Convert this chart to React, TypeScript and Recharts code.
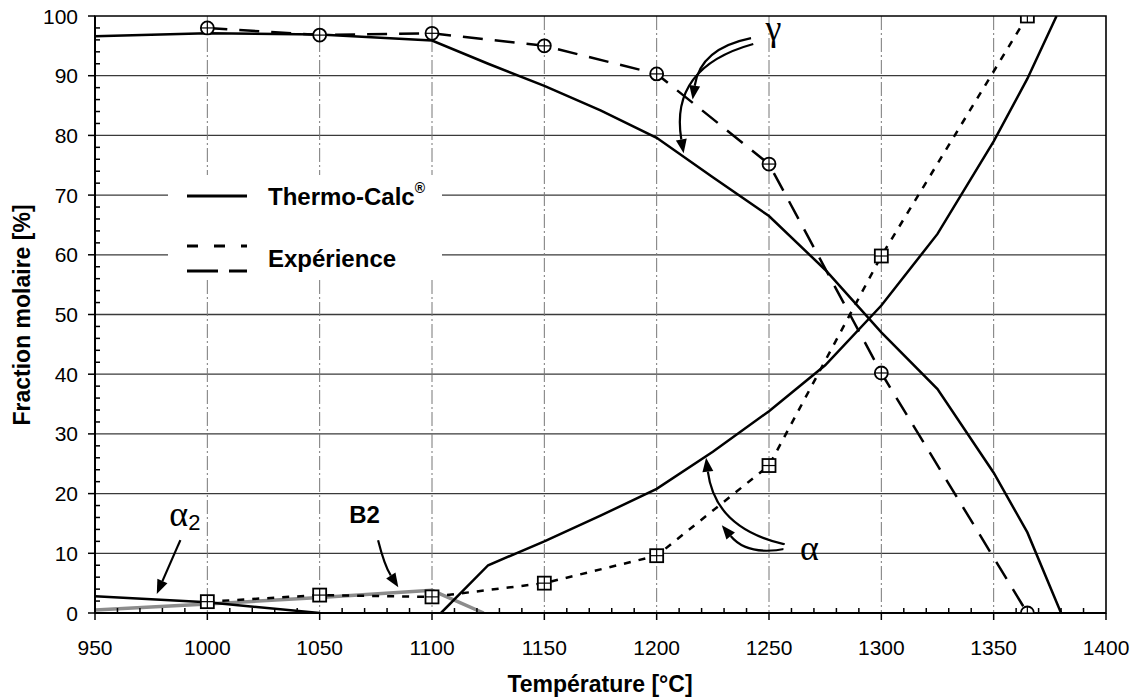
import React from "react";
import {
  CartesianGrid,
  Line,
  LineChart,
  ReferenceArea,
  ReferenceDot,
  ReferenceLine,
  XAxis,
  YAxis,
} from "recharts";

// Thermo-Calc: gamma
const gammaCalcT = [950, 1000, 1050, 1100, 1125, 1150, 1175, 1200, 1225, 1250, 1275, 1300, 1325, 1350, 1365, 1380];
const gammaCalcV = [96.6, 97.1, 96.9, 95.9, 92.0, 88.3, 84.2, 79.6, 73.0, 66.5, 57.5, 47.0, 37.5, 23.5, 13.5, 0];

// Thermo-Calc: alpha
const alphaCalcT = [1104, 1125, 1150, 1175, 1200, 1225, 1250, 1275, 1300, 1325, 1350, 1365, 1378];
const alphaCalcV = [0, 8, 12, 16.3, 20.8, 27.0, 33.8, 41.5, 51.5, 63.5, 79, 89.5, 100];

// Thermo-Calc: alpha2 and B2
const alpha2CalcT = [950, 1000, 1050];
const alpha2CalcV = [2.8, 1.8, 0];
const b2CalcT = [950, 1000, 1050, 1100, 1123];
const b2CalcV = [0.5, 1.5, 2.6, 3.8, 0];

// Experience
const expT = [1000, 1050, 1100, 1150, 1200, 1250, 1300, 1365];
const gammaExpV = [98, 96.8, 97.1, 95, 90.3, 75.2, 40.2, 0];
const alphaExpV = [1.9, 3.0, 2.7, 5, 9.6, 24.7, 59.8, 100];

const xTicks = Array.from({ length: 46 }, (_, i) => 950 + i * 10);
const yTicks = Array.from({ length: 51 }, (_, i) => i * 2);
const xGrid = [1000, 1050, 1100, 1150, 1200, 1250, 1300, 1350];
const yGrid = [10, 20, 30, 40, 50, 60, 70, 80, 90];

// annotation arrows: start, tip, bend
const arrows = [
  { from: [1242, 96.3], to: [1216, 86], bend: 0.35 },
  { from: [1243, 95.3], to: [1212, 77], bend: 0.45 },
  { from: [1258, 10.8], to: [1229, 14.7], bend: -0.3 },
  { from: [1257, 11.5], to: [1222, 26], bend: -0.35 },
  { from: [988, 12.2], to: [977.5, 3.2], bend: 0 },
  { from: [1076, 12.2], to: [1085, 4.3], bend: 0.08 },
];

const zip = (ts: number[], vs: number[]) => ts.map((t, i) => ({ t, v: vs[i] }));

const TICK_SIZE = 6;
const TICK_MARGIN = 6;
const SANS = "'Liberation Sans', Arial, sans-serif";
const SERIF = "'Liberation Serif', 'Times New Roman', serif";

function XTick(props: any) {
  const { x, y, payload } = props;
  const v = payload.value as number;
  const axisY = y - TICK_SIZE - TICK_MARGIN;
  const major = v % 50 === 0;
  return (
    <g>
      <line x1={x} x2={x} y1={axisY} y2={major ? axisY + 7 : axisY - 5} stroke="#000" strokeWidth={1.5} />
      {major && (
        <text x={x} y={axisY + 34} textAnchor="middle" dominantBaseline="central" fontSize={21} fontFamily={SANS} fill="#000">
          {v}
        </text>
      )}
    </g>
  );
}

function YTick(props: any) {
  const { x, y, payload } = props;
  const v = payload.value as number;
  const axisX = x + TICK_SIZE + TICK_MARGIN;
  const major = v % 10 === 0;
  return (
    <g>
      <line x1={axisX} x2={major ? axisX - 7 : axisX + 5} y1={y} y2={y} stroke="#000" strokeWidth={1.5} />
      {major && (
        <text x={axisX - 17} y={y} textAnchor="end" dominantBaseline="central" fontSize={21} fontFamily={SANS} fill="#000">
          {v}
        </text>
      )}
    </g>
  );
}

function CircleMark(props: any) {
  const { cx, cy, key } = props;
  return (
    <g key={key}>
      <circle cx={cx} cy={cy} r={6.5} fill="#fff" stroke="#000" strokeWidth={1.8} />
      <line x1={cx - 6.5} x2={cx + 6.5} y1={cy} y2={cy} stroke="#000" strokeWidth={1.2} />
      <line x1={cx} x2={cx} y1={cy - 6.5} y2={cy + 6.5} stroke="#000" strokeWidth={1.2} />
    </g>
  );
}

function SquareMark(props: any) {
  const { cx, cy, key } = props;
  return (
    <g key={key}>
      <rect x={cx - 6.5} y={cy - 6.5} width={13} height={13} fill="#fff" stroke="#000" strokeWidth={1.8} />
      <line x1={cx - 6.5} x2={cx + 6.5} y1={cy} y2={cy} stroke="#000" strokeWidth={1.2} />
      <line x1={cx} x2={cx} y1={cy - 6.5} y2={cy + 6.5} stroke="#000" strokeWidth={1.2} />
    </g>
  );
}

function Arrow({ x1, y1, x2, y2, bend }: any) {
  const dx = x2 - x1;
  const dy = y2 - y1;
  const cx = (x1 + x2) / 2 - dy * bend;
  const cy = (y1 + y2) / 2 + dx * bend;
  const tx = x2 - cx;
  const ty = y2 - cy;
  const len = Math.hypot(tx, ty) || 1;
  const ux = tx / len;
  const uy = ty / len;
  const hl = 14;
  const hw = 5.5;
  const bx = x2 - ux * hl;
  const by = y2 - uy * hl;
  return (
    <g>
      <path d={`M${x1},${y1} Q${cx},${cy} ${bx},${by}`} fill="none" stroke="#000" strokeWidth={2.2} />
      <path d={`M${x2},${y2} L${bx - uy * hw},${by + ux * hw} L${bx + uy * hw},${by - ux * hw} Z`} fill="#000" />
    </g>
  );
}

function textShape(content: React.ReactNode, font: string, size: number, weight = "normal") {
  return (p: any) => (
    <text x={p.cx} y={p.cy} textAnchor="middle" dominantBaseline="central" fontFamily={font} fontSize={size} fontWeight={weight} fill="#000">
      {content}
    </text>
  );
}

export default function App() {
  return (
    <div style={{ position: "absolute", left: 0, top: 0, width: 1141, height: 697, background: "#fff" }}>
      <LineChart width={1141} height={697} margin={{ top: 16, right: 35, left: 0, bottom: 0 }}>
        <CartesianGrid horizontal vertical={false} horizontalValues={yGrid} stroke="#3a3a3a" strokeWidth={1.3} />
        <CartesianGrid horizontal={false} vertical verticalValues={xGrid} stroke="#777" strokeWidth={1} strokeDasharray="14 3 2 3" />
        <XAxis
          dataKey="t"
          type="number"
          domain={[950, 1400]}
          ticks={xTicks}
          interval={0}
          height={84}
          tickSize={TICK_SIZE}
          tickMargin={TICK_MARGIN}
          tickLine={false}
          tick={<XTick />}
          axisLine={{ stroke: "#000", strokeWidth: 2 }}
          allowDataOverflow
        />
        <YAxis
          type="number"
          domain={[0, 100]}
          ticks={yTicks}
          interval={0}
          width={95}
          tickSize={TICK_SIZE}
          tickMargin={TICK_MARGIN}
          tickLine={false}
          tick={<YTick />}
          axisLine={{ stroke: "#000", strokeWidth: 2 }}
          allowDataOverflow
        />
        <ReferenceArea x1={950} x2={1400} y1={0} y2={100} fill="none" stroke="#000" strokeWidth={1.6} ifOverflow="visible" />

        <Line data={zip(b2CalcT, b2CalcV)} dataKey="v" stroke="#8c8c8c" strokeWidth={3.5} dot={false} isAnimationActive={false} />
        <Line data={zip(alpha2CalcT, alpha2CalcV)} dataKey="v" stroke="#000" strokeWidth={2.5} dot={false} isAnimationActive={false} />
        <Line data={zip(gammaCalcT, gammaCalcV)} dataKey="v" stroke="#000" strokeWidth={2.5} dot={false} isAnimationActive={false} />
        <Line data={zip(alphaCalcT, alphaCalcV)} dataKey="v" stroke="#000" strokeWidth={2.5} dot={false} isAnimationActive={false} />
        <Line
          data={zip(expT, alphaExpV)}
          dataKey="v"
          stroke="#000"
          strokeWidth={2.5}
          strokeDasharray="7 8"
          dot={SquareMark}
          isAnimationActive={false}
        />
        <Line
          data={zip(expT, gammaExpV)}
          dataKey="v"
          stroke="#000"
          strokeWidth={2.5}
          strokeDasharray="20 12"
          dot={CircleMark}
          isAnimationActive={false}
        />

        {arrows.map((a, i) => (
          <ReferenceLine
            key={`arrow-${i}`}
            segment={[
              { x: a.from[0], y: a.from[1] },
              { x: a.to[0], y: a.to[1] },
            ]}
            ifOverflow="visible"
            shape={(p: any) => <Arrow {...p} bend={a.bend} />}
          />
        ))}

        <ReferenceDot x={1268} y={10.9} r={0} ifOverflow="visible" shape={(p: any) => (
          <g>
            <rect x={p.cx - 26} y={p.cy - 3} width={52} height={6} fill="#fff" />
            {textShape("α", SERIF, 36)(p)}
          </g>
        )} />
        <ReferenceDot x={1252} y={98} r={0} ifOverflow="visible" shape={textShape("γ", SERIF, 36)} />
        <ReferenceDot x={990} y={16.5} r={0} ifOverflow="visible" shape={textShape(
          <>
            α<tspan fontSize={22} fontFamily={SANS} dy={8}>2</tspan>
          </>, SERIF, 36)} />
        <ReferenceDot x={1070} y={16.5} r={0} ifOverflow="visible" shape={textShape("B2", SANS, 24, "bold")} />
      </LineChart>

      <svg width={1141} height={697} style={{ position: "absolute", left: 0, top: 0, pointerEvents: "none" }}>
        <g fontFamily={SANS} fontWeight="bold" fill="#000">
          <rect x={168} y={175} width={274} height={105} fill="#fff" />
          <line x1={187} x2={247} y1={196} y2={196} stroke="#000" strokeWidth={3} />
          <text x={268} y={196} dominantBaseline="central" fontSize={24}>
            Thermo-Calc<tspan fontSize={14} dy={-8}>®</tspan>
          </text>
          <line x1={187} x2={247} y1={246} y2={246} stroke="#000" strokeWidth={3} strokeDasharray="11 16" />
          <line x1={187} x2={247} y1={271} y2={271} stroke="#000" strokeWidth={3} strokeDasharray="31 11" />
          <text x={268} y={258} dominantBaseline="central" fontSize={24}>
            Expérience
          </text>
          <text x={600} y={684} textAnchor="middle" dominantBaseline="central" fontSize={23}>
            Température [°C]
          </text>
          <text x={22} y={315} textAnchor="middle" dominantBaseline="central" fontSize={23} transform="rotate(-90 22 315)">
            Fraction molaire [%]
          </text>
        </g>
      </svg>
    </div>
  );
}
